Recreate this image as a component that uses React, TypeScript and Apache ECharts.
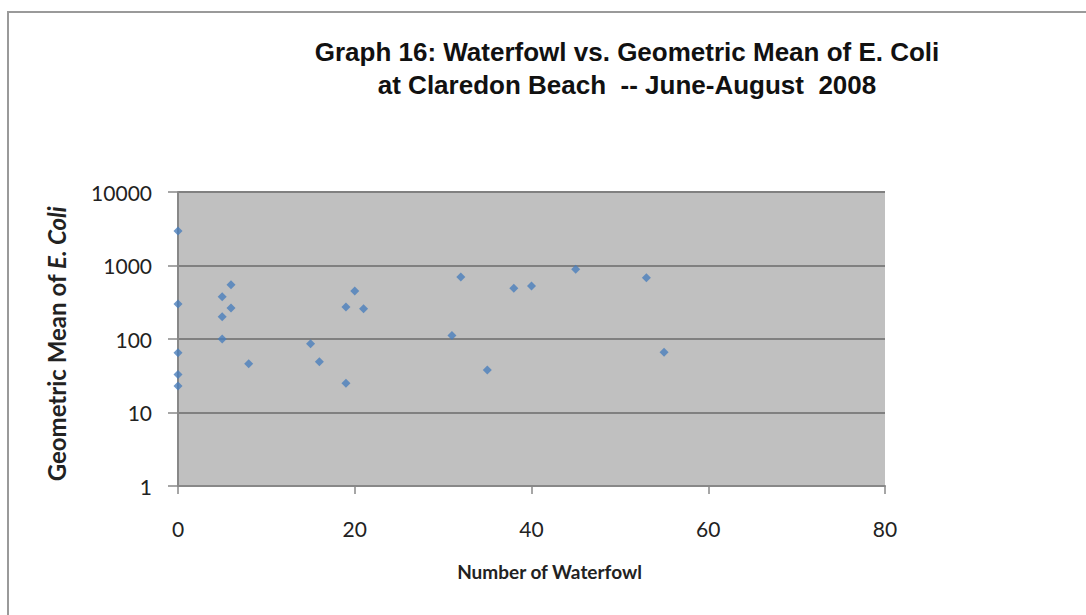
import React, { useEffect, useRef } from "react";
import * as echarts from "echarts";

const waterfowl = [0, 0, 0, 0, 0, 5, 5, 5, 6, 6, 8, 15, 16, 19, 19, 20, 21, 31, 32, 35, 38, 40, 45, 53, 55];
const eColiMean = [2950, 300, 65, 33, 23, 375, 200, 100, 545, 265, 46, 86, 49, 272, 25, 450, 257, 112, 700, 38, 490, 525, 890, 680, 66];
const titleLines = [
  "Graph 16: Waterfowl vs. Geometric Mean of E. Coli",
  "at Claredon Beach  -- June-August  2008",
];
const xAxisTitle = "Number of Waterfowl";
const yAxisTitle = "Geometric Mean of {i|E. Coli}";

export default function App() {
  const ref = useRef<HTMLDivElement>(null);
  useEffect(() => {
    if (!ref.current) return;
    const chart = echarts.init(ref.current, null, { renderer: "svg" });
    const points = waterfowl.map((x, i) => [x, eColiMean[i]]);
    chart.setOption({
      animation: false,
      backgroundColor: "#ffffff",
      title: {
        text: titleLines.join("\n"),
        left: 622,
        top: 30,
        textAlign: "center",
        textStyle: {
          fontFamily: "Liberation Sans",
          fontWeight: "bold",
          fontSize: 26,
          lineHeight: 33,
          color: "#111",
        },
      },
      graphic: [
        {
          type: "polyline",
          shape: { points: [[8, 615], [8, 12], [1086, 12]] },
          style: { stroke: "#9a9a9a", lineWidth: 2, fill: "none" },
          silent: true,
        },
      ],
      grid: {
        left: 178,
        right: 201,
        top: 192,
        bottom: 129,
        show: true,
        backgroundColor: "#c0c0c0",
        borderWidth: 0,
      },
      xAxis: {
        type: "value",
        min: 0,
        max: 80,
        interval: 20,
        name: xAxisTitle,
        nameLocation: "middle",
        nameGap: 76,
        nameTextStyle: {
          fontFamily: "Lato",
          fontWeight: "bold",
          fontSize: 19,
          color: "#222",
          padding: [0, 0, 0, 36],
        },
        axisLine: { show: true, onZero: false, lineStyle: { color: "#888", width: 2 } },
        axisTick: { show: true, length: 8, lineStyle: { color: "#888", width: 1.5 } },
        splitLine: { show: false },
        axisLabel: {
          margin: 32,
          fontFamily: "Lato",
          fontSize: 21,
          color: "#222",
        },
      },
      yAxis: {
        type: "log",
        logBase: 10,
        min: 1,
        max: 10000,
        name: yAxisTitle,
        nameLocation: "middle",
        nameRotate: 90,
        nameGap: 110,
        nameTextStyle: {
          fontFamily: "Lato",
          fontWeight: "bold",
          fontSize: 24,
          color: "#222",
          padding: [0, 10, 0, 0],
          rich: {
            i: {
              fontFamily: "Lato",
              fontWeight: "bold",
              fontStyle: "italic",
              fontSize: 24,
              color: "#222",
            },
          },
        },
        axisLine: { show: true, lineStyle: { color: "#888", width: 2 } },
        axisTick: { show: true, length: 10, lineStyle: { color: "#888", width: 1.5 } },
        splitLine: { show: true, lineStyle: { color: "#808080", width: 2 } },
        minorTick: { show: false },
        axisLabel: {
          margin: 26,
          fontFamily: "Lato",
          fontSize: 21,
          color: "#222",
          formatter: (v: number) => String(Math.round(v)),
        },
      },
      series: [
        {
          type: "scatter",
          data: points,
          symbol: "diamond",
          symbolSize: [9, 9],
          itemStyle: { color: "#4a7ebb" },
        },
      ],
    });
    return () => chart.dispose();
  }, []);
  return (
    <div
      ref={ref}
      style={{ position: "fixed", left: 0, top: 0, width: 1086, height: 615 }}
    />
  );
}
